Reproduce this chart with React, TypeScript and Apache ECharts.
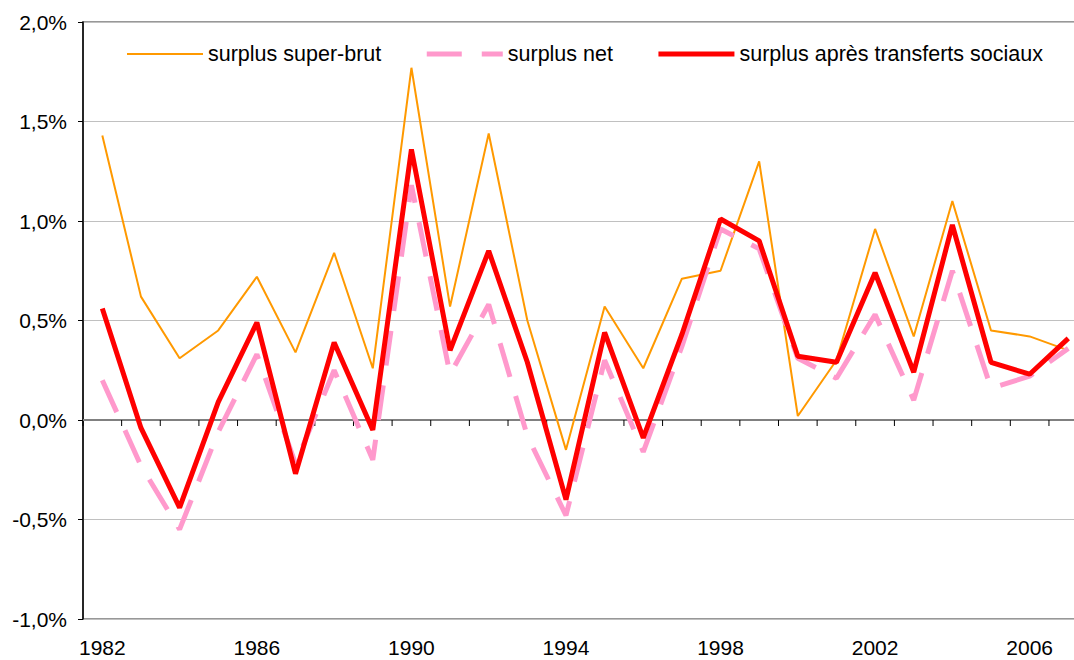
import React, { useEffect, useRef } from "react";
import * as echarts from "echarts";

const years = ["1982","1983","1984","1985","1986","1987","1988","1989","1990","1991","1992","1993","1994","1995","1996","1997","1998","1999","2000","2001","2002","2003","2004","2005","2006","2007"];
const superBrut = [1.43, 0.62, 0.31, 0.45, 0.72, 0.34, 0.84, 0.26, 1.77, 0.57, 1.44, 0.50, -0.15, 0.57, 0.26, 0.71, 0.75, 1.30, 0.02, 0.30, 0.96, 0.42, 1.10, 0.45, 0.42, 0.35];
const net = [0.20, -0.23, -0.55, -0.06, 0.33, -0.22, 0.25, -0.20, 1.18, 0.23, 0.58, -0.08, -0.48, 0.30, -0.16, 0.37, 0.96, 0.86, 0.31, 0.21, 0.53, 0.10, 0.75, 0.16, 0.22, 0.36];
const apresTransferts = [0.56, -0.04, -0.44, 0.09, 0.49, -0.27, 0.39, -0.05, 1.36, 0.35, 0.85, 0.29, -0.40, 0.44, -0.09, 0.43, 1.01, 0.90, 0.32, 0.29, 0.74, 0.24, 0.98, 0.29, 0.23, 0.41];
const seriesNames = ["surplus super-brut", "surplus net", "surplus après transferts sociaux"];
const yMin = -1;
const yMax = 2;
const yStep = 0.5;

const FONT = "'Liberation Sans', Arial, sans-serif";
const hiddenSymbol = { color: "rgba(0,0,0,0)", borderWidth: 0, opacity: 0 };

export default function App() {
  const ref = useRef<HTMLDivElement>(null);
  useEffect(() => {
    if (!ref.current) return;
    const chart = echarts.init(ref.current, undefined, { renderer: "svg" });
    const fmt = (v: number) => v.toFixed(1).replace(".", ",") + "%";
    const n = years.length;
    chart.setOption({
      animation: false,
      backgroundColor: "#ffffff",
      textStyle: { fontFamily: FONT },
      grid: {
        left: 83,
        top: 22,
        width: 1004.6,
        height: 597,
        show: true,
        borderColor: "#777777",
        borderWidth: 1.5,
        backgroundColor: "transparent",
      },
      legend: {
        left: 121,
        top: 38,
        itemWidth: 76,
        itemHeight: 22,
        itemGap: 43,
        selectedMode: false,
        textStyle: { fontFamily: FONT, fontSize: 21.5, color: "#000" },
        data: [
          { name: seriesNames[0], itemStyle: hiddenSymbol, lineStyle: { width: 2, color: "#FF9900", type: "solid", opacity: 1 } },
          { name: seriesNames[1], itemStyle: hiddenSymbol, lineStyle: { width: 5, color: "#FF99CC", type: [35, 20], opacity: 1 } },
          { name: seriesNames[2], itemStyle: hiddenSymbol, lineStyle: { width: 5, color: "#FF0000", type: "solid", opacity: 1 } },
        ],
      },
      xAxis: {
        type: "category",
        data: years,
        boundaryGap: true,
        position: "bottom",
        axisLine: { show: false, onZero: false },
        axisTick: { show: false },
        axisLabel: { show: true, interval: 3, margin: 18, fontSize: 21, color: "#000", fontFamily: FONT },
        splitLine: { show: false },
      },
      yAxis: {
        type: "value",
        min: yMin,
        max: yMax,
        interval: yStep,
        axisLine: { show: true, onZero: false, lineStyle: { color: "#000", width: 1.5 } },
        axisTick: { show: true, length: 5, lineStyle: { color: "#000" } },
        axisLabel: { formatter: fmt, fontSize: 21, color: "#000", margin: 16, fontFamily: FONT },
        splitLine: { show: true, lineStyle: { color: "#c0c0c0", width: 1 } },
      },
      series: [
        {
          name: "zero-axis",
          type: "custom",
          silent: true,
          legendHoverLink: false,
          z: 1,
          data: years.map((_, i) => [i]),
          renderItem: (params: any, api: any) => {
            const idx = api.value(0);
            const p = api.coord([idx, 0]);
            const bw = api.size([1, 0])[0];
            const left = p[0] - bw / 2;
            const children: any[] = [
              {
                type: "line",
                shape: { x1: left, y1: p[1], x2: left, y2: p[1] + 6 },
                style: { stroke: "#000", lineWidth: 1 },
              },
            ];
            if (idx === n - 1) {
              children.push({
                type: "line",
                shape: { x1: left + bw, y1: p[1], x2: left + bw, y2: p[1] + 6 },
                style: { stroke: "#000", lineWidth: 1 },
              });
            }
            if (idx === 0) {
              children.push({
                type: "line",
                shape: { x1: left, y1: p[1], x2: left + bw * n, y2: p[1] },
                style: { stroke: "#808080", lineWidth: 2 },
              });
            }
            return { type: "group", children };
          },
        },
        {
          name: seriesNames[0],
          type: "line",
          data: superBrut,
          symbol: "none",
          lineStyle: { color: "#FF9900", width: 2 },
          itemStyle: { color: "#FF9900" },
          z: 2,
        },
        {
          name: seriesNames[1],
          type: "line",
          data: net,
          symbol: "none",
          lineStyle: { color: "#FF99CC", width: 5, type: [35, 20] },
          itemStyle: { color: "#FF99CC" },
          z: 3,
        },
        {
          name: seriesNames[2],
          type: "line",
          data: apresTransferts,
          symbol: "none",
          lineStyle: { color: "#FF0000", width: 5 },
          itemStyle: { color: "#FF0000" },
          z: 4,
        },
      ],
    });
    return () => chart.dispose();
  }, []);
  return (
    <div style={{ position: "fixed", left: 0, top: 0, width: 1074, height: 660, overflow: "hidden", background: "#fff" }}>
      <div ref={ref} style={{ width: 1100, height: 660 }} />
    </div>
  );
}
